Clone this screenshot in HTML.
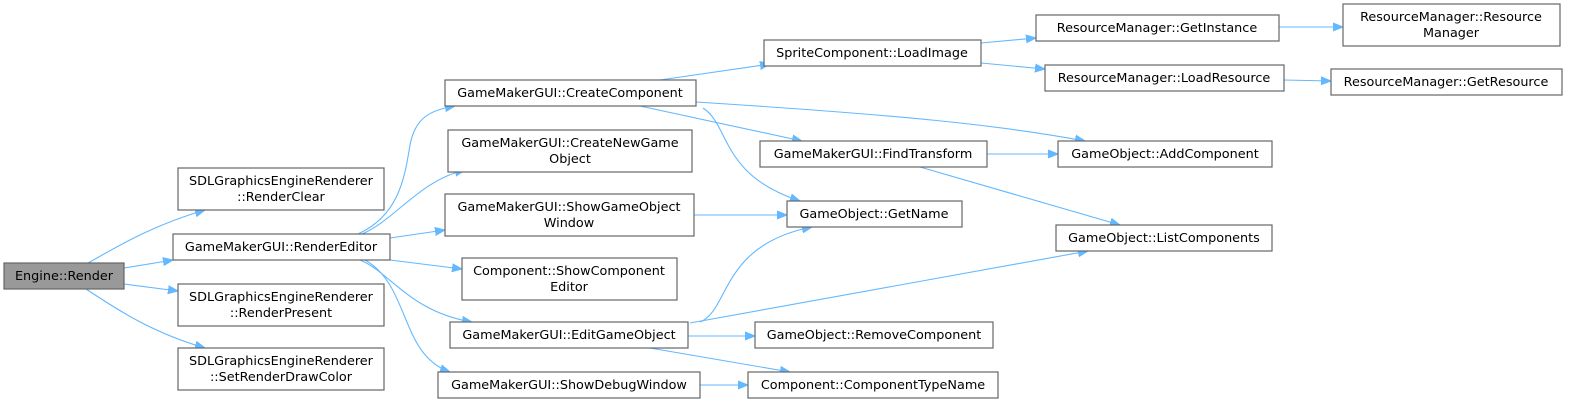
<!DOCTYPE html>
<html><head><meta charset="utf-8"><style>
html,body{margin:0;padding:0;background:#fff;width:1569px;height:403px;overflow:hidden}
text{font-family:"DejaVu Sans","Liberation Sans",sans-serif;font-size:12.8px;fill:#000}
.b{fill:#fff;stroke:#666;stroke-width:1.2}
.e{fill:none;stroke:#63b8ff;stroke-width:1.1}
</style></head><body>
<svg width="1569" height="403" viewBox="0 0 1569 403" xmlns="http://www.w3.org/2000/svg">
<defs><marker id="a" viewBox="0 0 10 10" refX="10" refY="5" markerWidth="10" markerHeight="10" markerUnits="userSpaceOnUse" orient="auto"><path d="M0,1 L10,5 L0,9 z" fill="#63b8ff" stroke="#63b8ff"/></marker></defs>
<g marker-end="url(#a)">
<path class="e" d="M88,263 C115,248 150,226 205,210"/>
<path class="e" d="M124,268 L173,260"/>
<path class="e" d="M124,284 L178,291"/>
<path class="e" d="M86,289 C115,308 150,332 205,348"/>
<path class="e" d="M358,234 C400,215 405,175 410,145 C415,118 430,110 455,106"/>
<path class="e" d="M362,234 C395,220 420,180 465,170"/>
<path class="e" d="M390,238 L445,230"/>
<path class="e" d="M390,260 L462,269"/>
<path class="e" d="M360,260 C390,272 410,312 472,322"/>
<path class="e" d="M365,260 C410,285 400,355 450,372"/>
<path class="e" d="M660,80 L770,64"/>
<path class="e" d="M640,106 L802,141"/>
<path class="e" d="M696,102 C900,115 1000,125 1085,141"/>
<path class="e" d="M703,108 C730,125 720,175 800,201"/>
<path class="e" d="M694,215 L787,215"/>
<path class="e" d="M700,322 C730,310 720,245 812,227"/>
<path class="e" d="M690,323 L1088,251"/>
<path class="e" d="M688,336 L755,336"/>
<path class="e" d="M650,348 L790,372"/>
<path class="e" d="M700,385 L748,385"/>
<path class="e" d="M981,43 L1036,38"/>
<path class="e" d="M981,63 L1045,69"/>
<path class="e" d="M1279,27 L1343,27"/>
<path class="e" d="M1284,80 L1331,81"/>
<path class="e" d="M987,154 L1058,154"/>
<path class="e" d="M920,167 L1120,225"/>
</g>
<rect x="4" y="263" width="120" height="26" fill="#999" stroke="#666" stroke-width="1.2"/>
<text x="64" y="280" text-anchor="middle">Engine::Render</text>
<rect class="b" x="178" y="168" width="206" height="42"/><text x="281" y="185" text-anchor="middle">SDLGraphicsEngineRenderer</text><text x="281" y="201" text-anchor="middle">::RenderClear</text>
<rect class="b" x="173" y="234" width="217" height="26"/><text x="281" y="251" text-anchor="middle">GameMakerGUI::RenderEditor</text>
<rect class="b" x="178" y="284" width="206" height="42"/><text x="281" y="301" text-anchor="middle">SDLGraphicsEngineRenderer</text><text x="281" y="317" text-anchor="middle">::RenderPresent</text>
<rect class="b" x="178" y="348" width="206" height="42"/><text x="281" y="365" text-anchor="middle">SDLGraphicsEngineRenderer</text><text x="281" y="381" text-anchor="middle">::SetRenderDrawColor</text>
<rect class="b" x="445" y="80" width="251" height="26"/><text x="570" y="97" text-anchor="middle">GameMakerGUI::CreateComponent</text>
<rect class="b" x="448" y="130" width="244" height="42"/><text x="570" y="147" text-anchor="middle">GameMakerGUI::CreateNewGame</text><text x="570" y="163" text-anchor="middle">Object</text>
<rect class="b" x="445" y="194" width="249" height="42"/><text x="569" y="211" text-anchor="middle">GameMakerGUI::ShowGameObject</text><text x="569" y="227" text-anchor="middle">Window</text>
<rect class="b" x="462" y="258" width="215" height="42"/><text x="569" y="275" text-anchor="middle">Component::ShowComponent</text><text x="569" y="291" text-anchor="middle">Editor</text>
<rect class="b" x="450" y="322" width="238" height="26"/><text x="569" y="339" text-anchor="middle">GameMakerGUI::EditGameObject</text>
<rect class="b" x="438" y="372" width="262" height="26"/><text x="569" y="389" text-anchor="middle">GameMakerGUI::ShowDebugWindow</text>
<rect class="b" x="764" y="40" width="217" height="26"/><text x="872" y="57" text-anchor="middle">SpriteComponent::LoadImage</text>
<rect class="b" x="1036" y="15" width="243" height="26"/><text x="1157" y="32" text-anchor="middle">ResourceManager::GetInstance</text>
<rect class="b" x="1343" y="4" width="217" height="42"/><text x="1451" y="21" text-anchor="middle">ResourceManager::Resource</text><text x="1451" y="37" text-anchor="middle">Manager</text>
<rect class="b" x="1045" y="65" width="239" height="26"/><text x="1164" y="82" text-anchor="middle">ResourceManager::LoadResource</text>
<rect class="b" x="1331" y="69" width="231" height="26"/><text x="1446" y="86" text-anchor="middle">ResourceManager::GetResource</text>
<rect class="b" x="760" y="141" width="227" height="26"/><text x="873" y="158" text-anchor="middle">GameMakerGUI::FindTransform</text>
<rect class="b" x="1058" y="141" width="214" height="26"/><text x="1165" y="158" text-anchor="middle">GameObject::AddComponent</text>
<rect class="b" x="787" y="201" width="175" height="26"/><text x="874" y="218" text-anchor="middle">GameObject::GetName</text>
<rect class="b" x="1056" y="225" width="216" height="26"/><text x="1164" y="242" text-anchor="middle">GameObject::ListComponents</text>
<rect class="b" x="755" y="322" width="238" height="26"/><text x="874" y="339" text-anchor="middle">GameObject::RemoveComponent</text>
<rect class="b" x="748" y="372" width="250" height="26"/><text x="873" y="389" text-anchor="middle">Component::ComponentTypeName</text>
</svg>
</body></html>
